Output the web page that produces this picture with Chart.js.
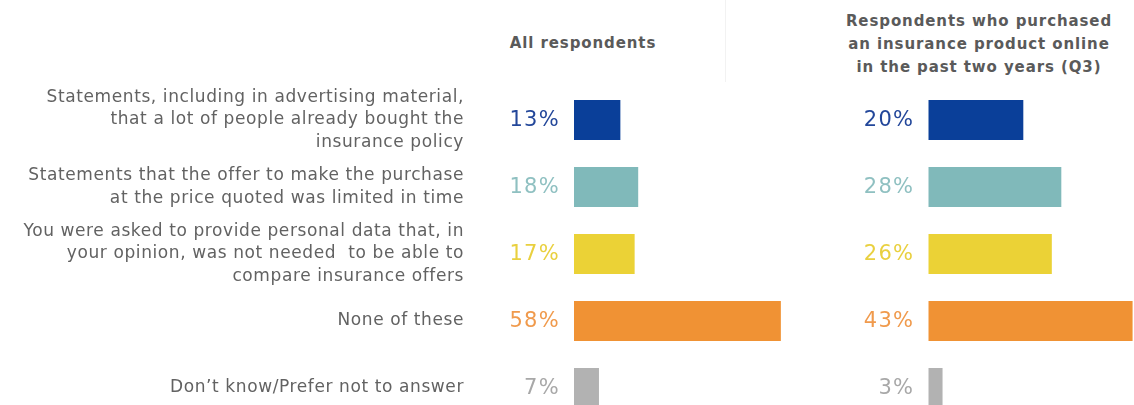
<!DOCTYPE html>
<html>
<head>
<meta charset="utf-8">
<script src="https://cdn.jsdelivr.net/npm/chart.js@4/dist/chart.umd.min.js"></script>
<style>
  html, body { margin: 0; padding: 0; background: #fff; overflow: hidden; width: 1134px; height: 405px; }
  #wrap { position: relative; width: 1134px; height: 405px; overflow: hidden; }
  .title { position: absolute; font-family: "DejaVu Sans", Verdana, sans-serif; font-weight: bold; font-size: 15px; letter-spacing: 0.9px; color: #5a5a5a; text-align: center; line-height: 23px; }
  #sep { position: absolute; left: 725px; top: 0; width: 1px; height: 82px; background: #f2f2f2; }
  canvas { position: absolute; top: 0; }
</style>
</head>
<body>
<div id="wrap">
  <div class="title" id="t1" style="left:433px; top:32px; width:300px;">All respondents</div>
  <div id="sep"></div>
  <div class="title" id="t2" style="left:829px; top:10px; width:300px;">Respondents who purchased<br>an insurance product online<br>in the past two years (Q3)</div>
  <canvas id="c1" width="788" height="430" style="left:0px; width:788px; height:430px;"></canvas>
  <canvas id="c2" width="334" height="430" style="left:800px; width:334px; height:430px;"></canvas>
</div>
<script>
const categories = [
  ["Statements, including in advertising material,", "that a lot of people already bought the", "insurance policy"],
  ["Statements that the offer to make the purchase", "at the price quoted was limited in time"],
  ["You were asked to provide personal data that, in", "your opinion, was not needed  to be able to", "compare insurance offers"],
  ["None of these"],
  ["Don\u2019t know/Prefer not to answer"]
];
const allRespondents = [13, 18, 17, 58, 7];
const onlinePurchasers = [20, 28, 26, 43, 3];
const panelTitles = ["All respondents", "Respondents who purchased an insurance product online in the past two years (Q3)"];
const barColors = ["#0a3f99", "#80b9ba", "#ebd236", "#f09234", "#b2b2b2"];
const labelColors = ["#23479a", "#8fc0c1", "#e9d03f", "#f09a4c", "#a8a8a8"];

const spacing = {
  id: 'spacing',
  beforeLayout(chart) { chart.ctx.letterSpacing = '0.6px'; },
  beforeDraw(chart) { chart.ctx.letterSpacing = '0.6px'; }
};

const valueLabels = {
  id: 'valueLabels',
  afterDatasetsDraw(chart) {
    const ctx = chart.ctx;
    const meta = chart.getDatasetMeta(0);
    const data = chart.data.datasets[0].data;
    ctx.save();
    ctx.font = '21px "DejaVu Sans", Verdana, sans-serif';
    ctx.letterSpacing = '1.3px';
    ctx.textAlign = 'right';
    ctx.textBaseline = 'middle';
    meta.data.forEach((bar, i) => {
      ctx.fillStyle = labelColors[i];
      ctx.fillText(data[i] + '%', chart.chartArea.left - 14, bar.y + 1);
    });
    ctx.restore();
  }
};

function makeChart(id, values, xMax, showLabels, padLeft) {
  const yAxis = {
    display: showLabels,
    grid: { display: false, drawTicks: false },
    border: { display: false },
    ticks: {
      autoSkip: false,
      crossAlign: 'near',
      padding: 110,
      color: '#626262',
      font: { family: '"DejaVu Sans", Verdana, sans-serif', size: 17, lineHeight: 1.34 }
    }
  };
  if (showLabels) {
    yAxis.afterFit = (scale) => { scale.width = 574; scale.paddingTop = 0; scale.paddingBottom = 0; };
  }
  return new Chart(document.getElementById(id), {
    type: 'bar',
    data: {
      labels: categories,
      datasets: [{
        data: values,
        backgroundColor: barColors,
        borderWidth: 0,
        barPercentage: 0.6,
        categoryPercentage: 1
      }]
    },
    options: {
      indexAxis: 'y',
      responsive: false,
      animation: false,
      layout: { padding: { top: 86.5, bottom: 8.5, left: padLeft, right: 0 } },
      plugins: { legend: { display: false }, tooltip: { enabled: false } },
      scales: {
        x: { display: false, min: 0, max: xMax },
        y: yAxis
      }
    },
    plugins: [spacing, valueLabels]
  });
}

makeChart('c1', allRespondents, 60, true, 0);
makeChart('c2', onlinePurchasers, 43.3, false, 128.3);
</script>
</body>
</html>
